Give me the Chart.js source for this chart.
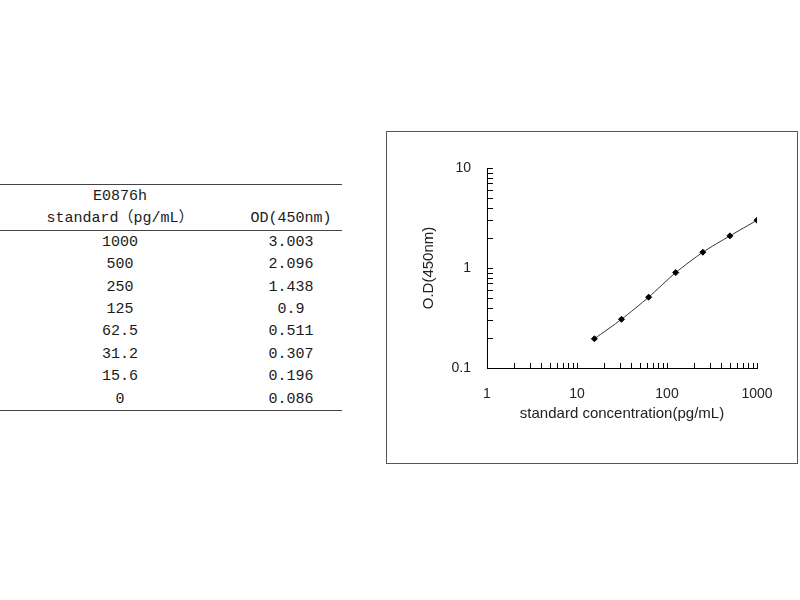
<!DOCTYPE html>
<html>
<head>
<meta charset="utf-8">
<script src="https://cdn.jsdelivr.net/npm/chart.js@4.4.1/dist/chart.umd.min.js"></script>
<style>
  body { margin: 0; background: #fff; }
  #tbl { position: absolute; left: 0; top: 184px; border-collapse: collapse; font-family: "Liberation Mono", "Noto Sans CJK SC", monospace; font-size: 15px; color: #1a1a1a; }
  #tbl td { padding: 1px 0 0 0; text-align: center; height: 21.4px; line-height: 21.4px; }
  #tbl td.c1 { width: 240px; }
  #tbl td.c2 { width: 102px; }
  #tbl thead tr:first-child td { border-top: 1.5px solid #444; }
  #tbl thead tr:last-child td { border-bottom: 1.5px solid #444; }
  #tbl tbody tr:last-child td { border-bottom: 1.5px solid #444; }
  #box { position: absolute; left: 386px; top: 131px; width: 410px; height: 331px; border: 1px solid #555; }
</style>
</head>
<body>
<table id="tbl">
  <thead>
    <tr><td class="c1">E0876h</td><td class="c2"></td></tr>
    <tr><td class="c1">standard（pg/mL）</td><td class="c2">OD(450nm)</td></tr>
  </thead>
  <tbody id="rows"></tbody>
</table>
<div id="box"><canvas id="std_curve"></canvas></div>
<script>
const concentration = [1000, 500, 250, 125, 62.5, 31.2, 15.6, 0];
const od = [3.003, 2.096, 1.438, 0.9, 0.511, 0.307, 0.196, 0.086];
const xTicks = [1, 10, 100, 1000];
const yTicks = [0.1, 1, 10];

// table on the left
const tbody = document.querySelector('#rows');
concentration.forEach((c, i) => {
  const tr = document.createElement('tr');
  tr.innerHTML = '<td class="c1">' + c + '</td><td class="c2">' + od[i] + '</td>';
  tbody.appendChild(tr);
});

// 0 can't go on a log axis
const points = concentration
  .map((c, i) => ({ x: c, y: od[i] }))
  .filter(p => p.x > 0)
  .sort((a, b) => a.x - b.x);

function logMarks(min, max) {
  const out = [];
  for (let d = Math.round(Math.log10(min)); Math.pow(10, d) <= max; d++) {
    for (let k = 1; k <= 9; k++) {
      const v = k * Math.pow(10, d);
      if (v <= max * 1.0001) out.push(v);
    }
  }
  return out;
}

// tick marks drawn inside the plot, like the original
const innerTicks = {
  id: 'innerTicks',
  afterDraw(chart) {
    const { ctx, chartArea, scales: { x, y } } = chart;
    ctx.save();
    ctx.strokeStyle = '#000';
    ctx.lineWidth = 1;
    ctx.beginPath();
    logMarks(x.min, x.max).forEach(v => {
      const px = Math.round(x.getPixelForValue(v)) + 0.5;
      ctx.moveTo(px, chartArea.bottom);
      ctx.lineTo(px, chartArea.bottom - 5);
    });
    logMarks(y.min, y.max).forEach(v => {
      const py = Math.round(y.getPixelForValue(v)) + 0.5;
      ctx.moveTo(chartArea.left, py);
      ctx.lineTo(chartArea.left + 6, py);
    });
    ctx.stroke();
    ctx.restore();
  }
};

const font = { family: '"Liberation Sans", Arial, sans-serif', size: 14 };

new Chart(document.querySelector('#std_curve'), {
  type: 'scatter',
  data: {
    datasets: [{
      data: points,
      showLine: true,
      borderColor: '#333',
      borderWidth: 1,
      tension: 0.25,
      pointStyle: 'rectRot',
      pointRadius: 3,
      pointBackgroundColor: '#000',
      pointBorderColor: '#000'
    }]
  },
  options: {
    responsive: true,
    maintainAspectRatio: false,
    animation: false,
    layout: { padding: { left: 0, top: 36, right: 40, bottom: 39 } },
    plugins: { legend: { display: false }, tooltip: { enabled: false } },
    scales: {
      x: {
        type: 'logarithmic',
        min: 1,
        max: 1000,
        afterBuildTicks: s => { s.ticks = xTicks.map(v => ({ value: v })); },
        afterFit: s => { s.height = 56; },
        grid: { display: false, drawTicks: false },
        border: { display: true, color: '#000', width: 1 },
        ticks: { color: '#222', font: font, padding: 18, maxRotation: 0, callback: v => String(v) },
        title: { display: true, text: 'standard concentration(pg/mL)', color: '#222', font: { family: font.family, size: 15 }, padding: { top: 0, bottom: 1 } }
      },
      y: {
        type: 'logarithmic',
        min: 0.1,
        max: 10,
        afterBuildTicks: s => { s.ticks = yTicks.map(v => ({ value: v })); },
        afterFit: s => { s.width = 100; },
        grid: { display: false, drawTicks: false },
        border: { display: true, color: '#000', width: 1 },
        ticks: { color: '#222', font: font, padding: 16, callback: v => String(v) },
        title: { display: true, text: 'O.D(450nm)', color: '#222', font: { family: font.family, size: 15 }, padding: { top: 33, bottom: 0 } }
      }
    }
  },
  plugins: [innerTicks]
});
</script>
</body>
</html>
